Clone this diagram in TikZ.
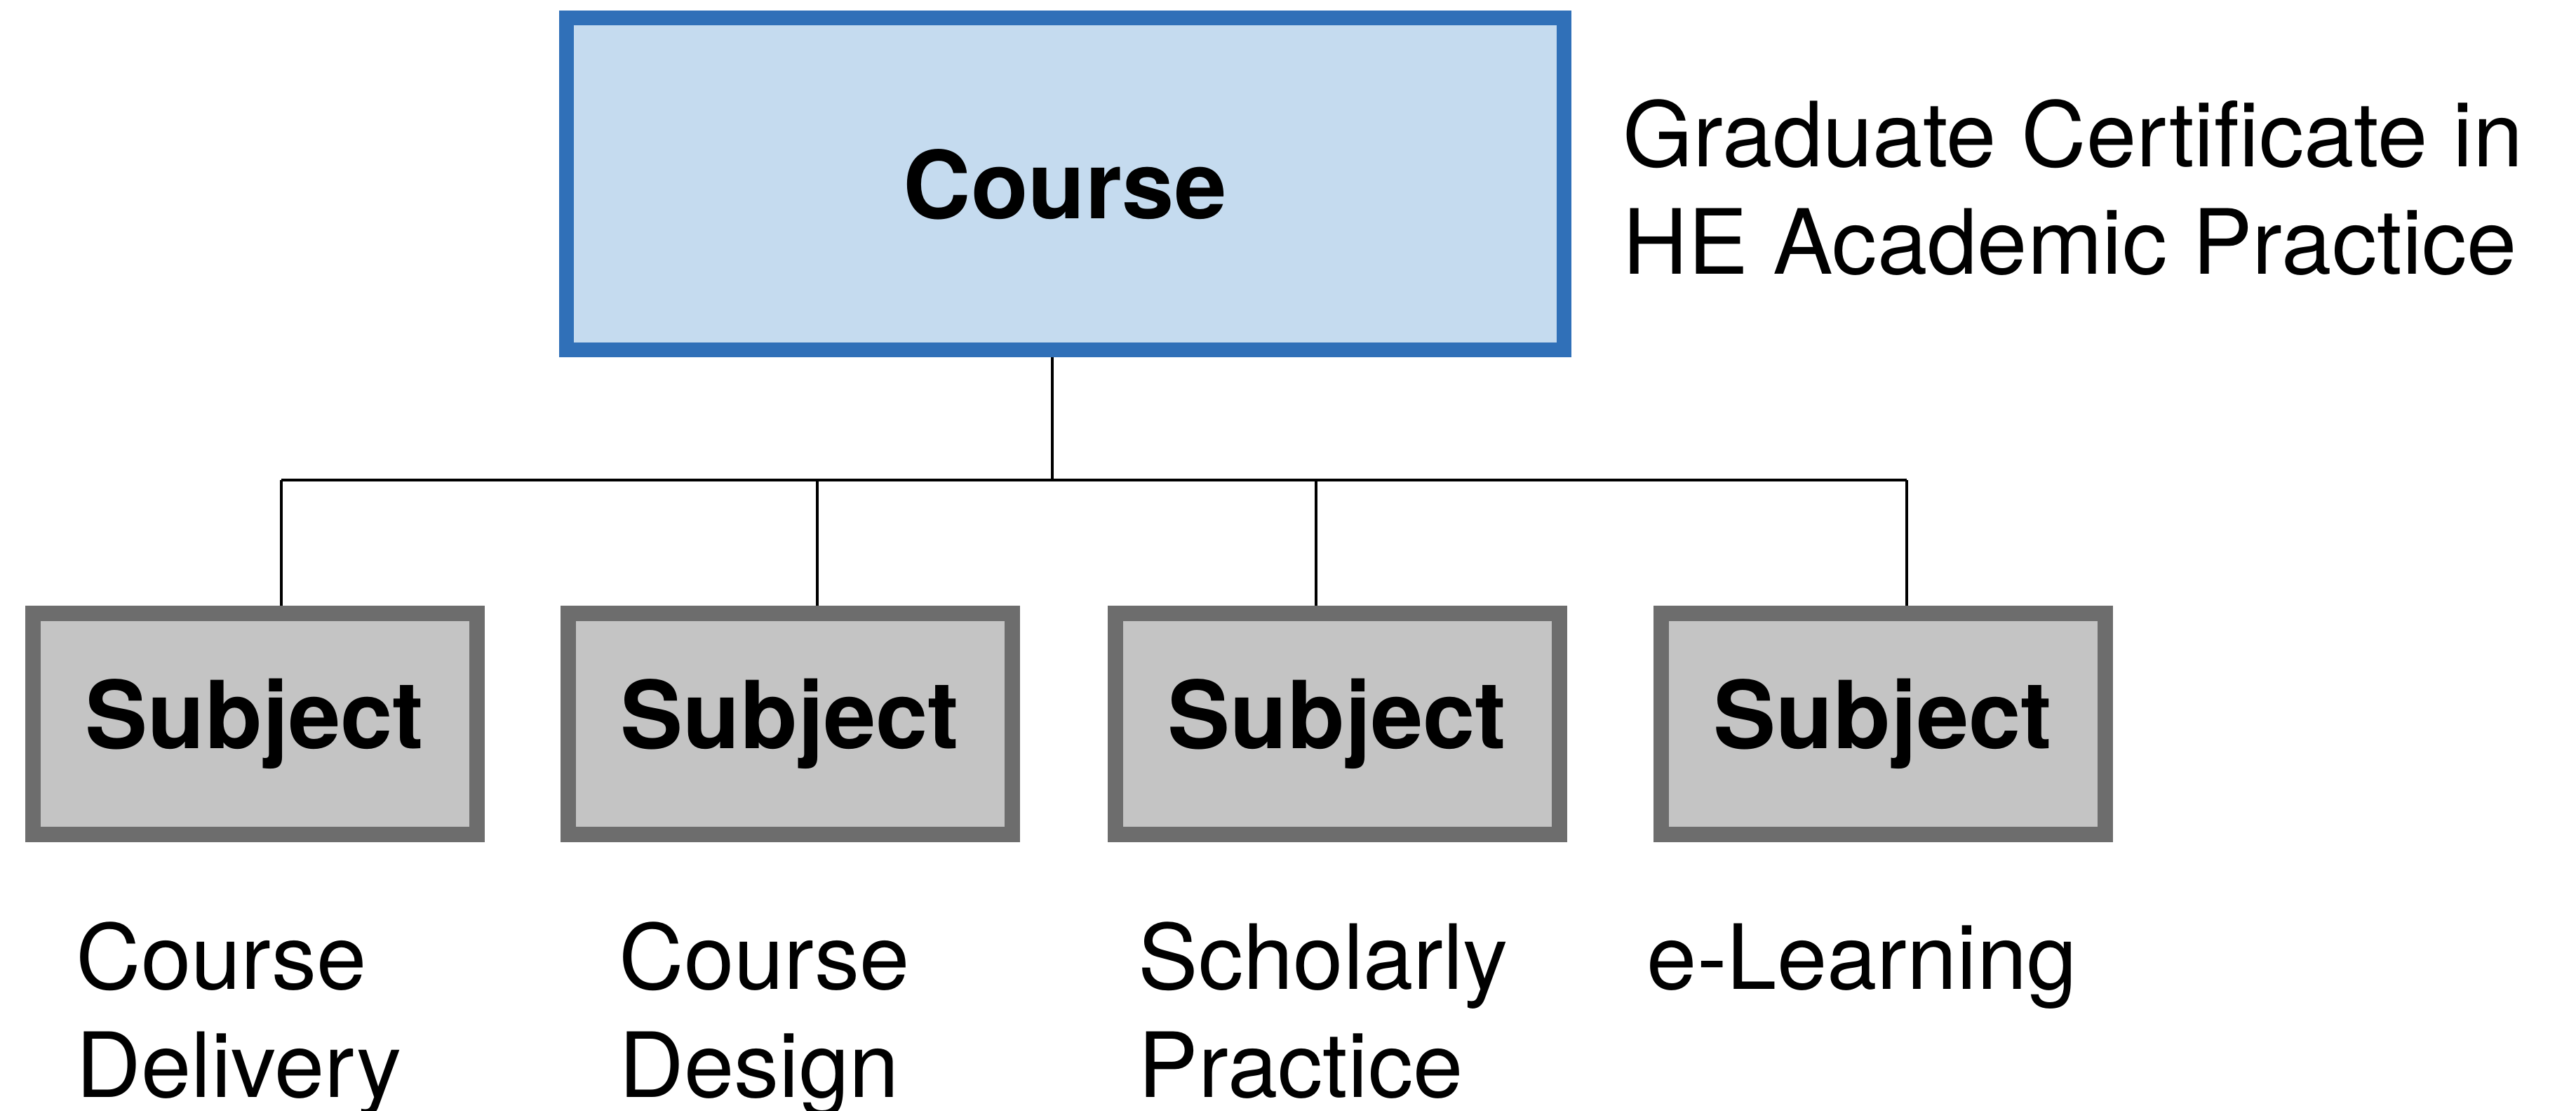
\documentclass[tikz,border=0pt]{standalone}
\usepackage{fontspec}
\setmainfont{TeX Gyre Heros}
\usepackage{tikz}

\definecolor{courseblue}{HTML}{3070B8}
\definecolor{coursefill}{HTML}{C5DBEF}
\definecolor{subjgray}{HTML}{6D6D6D}
\definecolor{subjfill}{HTML}{C4C4C4}
\newcommand{\bigtext}{\fontsize{36.5}{43.8}\selectfont}
\newcommand{\boxtext}{\fontsize{38}{45}\selectfont\bfseries}

\begin{document}
\begin{tikzpicture}[
		coursebox/.style={draw=courseblue, fill=coursefill, line width=0.21cm, minimum width=14.22cm, minimum height=4.73cm, inner sep=0pt, font=\boxtext},
		subjbox/.style={draw=subjgray, fill=subjfill, line width=0.22cm, minimum width=6.33cm, minimum height=3.15cm, inner sep=0pt, font=\boxtext},
		caption/.style={anchor=base west, align=left, inner sep=0pt, font=\bigtext},
		conn/.style={black, line width=1pt}]
		\useasboundingbox (0,0) rectangle (36.72,-15.83);
		\node[coursebox] (course) at (15.18,-2.625) {Course};
		% multi-line captions sit on the baseline of their last line
		\node[caption] (title) at (23.13,-3.91) {Graduate Certificate in\\HE Academic Practice};
		\node[subjbox] (s1) at (3.63,-10.315) {Subject};
		\node[subjbox] (s2) at (11.26,-10.315) {Subject};
		\node[subjbox] (s3) at (19.06,-10.315) {Subject};
		\node[subjbox] (s4) at (26.84,-10.315) {Subject};
		\node[caption] (c1) at (1.08,-15.63) {Course\\Delivery};
		\node[caption] (c2) at (8.82,-15.63) {Course\\Design};
		\node[caption] (c3) at (16.22,-15.63) {Scholarly\\Practice};
		\node[caption] (c4) at (23.47,-14.09) {e-Learning};
		% tree connectors
		\coordinate (bus) at (15.00,-6.84);
		\draw[conn] ([xshift=-0.18cm]course.south) -- (bus);
		\draw[conn] ([xshift=0.38cm]s1.north |- bus) -- ([xshift=0.34cm]s4.north |- bus);
		\foreach \s/\dx in {s1/0.38, s2/0.39, s3/-0.30, s4/0.34}
			\draw[conn] ([xshift=\dx cm]\s.north |- bus) -- ([xshift=\dx cm]\s.north);
\end{tikzpicture}
\end{document}
